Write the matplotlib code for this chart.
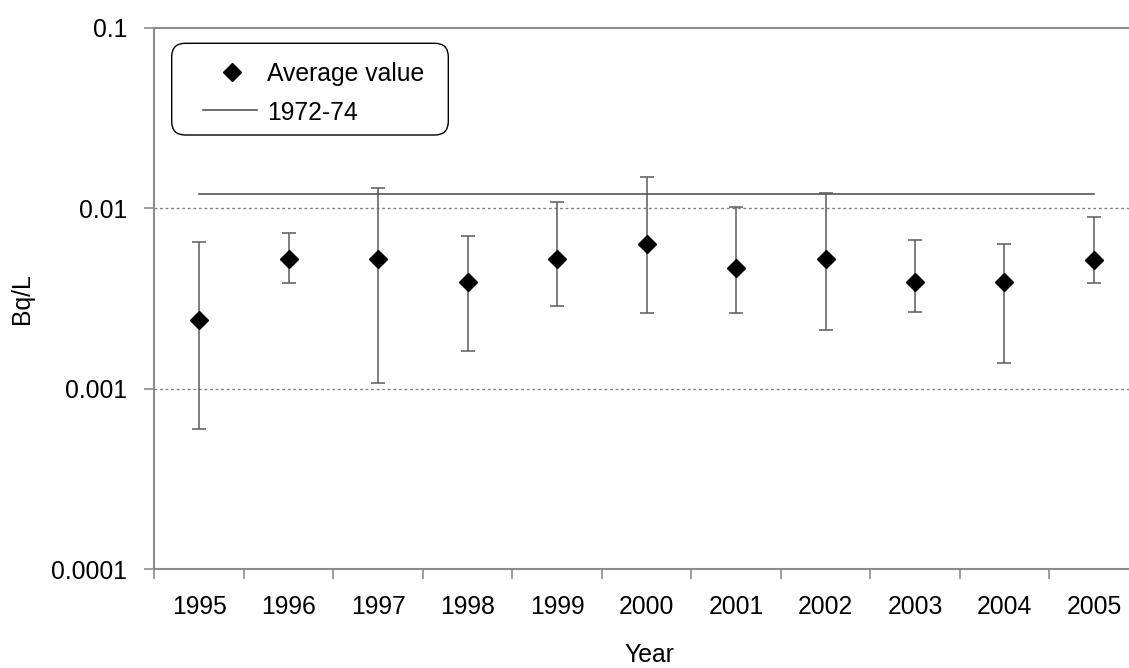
import numpy as np
import matplotlib
matplotlib.use("Agg")
import matplotlib.pyplot as plt
from matplotlib.patches import FancyBboxPatch

years = ["1995", "1996", "1997", "1998", "1999", "2000", "2001", "2002", "2003", "2004", "2005"]
avg = [0.0024, 0.00525, 0.00525, 0.00391, 0.00525, 0.00635, 0.00464, 0.00525, 0.00391, 0.00391, 0.00514]
upper = [0.00649, 0.00731, 0.01297, 0.00698, 0.01085, 0.01482, 0.0101, 0.01213, 0.00665, 0.00632, 0.00894]
lower = [0.000598, 0.00383, 0.00108, 0.00161, 0.00286, 0.00264, 0.00261, 0.0021, 0.00265, 0.00138, 0.00383]
ref_1972_74 = 0.01197
ytick_vals = [0.0001, 0.001, 0.01, 0.1]
ytick_labels = ["0.0001", "0.001", "0.01", "0.1"]
legend_labels = ["Average value", "1972-74"]

plt.rcParams['font.family'] = ['Liberation Sans', 'DejaVu Sans']
FS = 17.8
W, H = 1129, 668

fig = plt.figure(figsize=(W / 100, H / 100), dpi=100)
ax = fig.add_axes([0.1368, 0.1482, 0.8718, 0.8103])

x = np.arange(len(years))
avg_a = np.array(avg)
err = [avg_a - np.array(lower), np.array(upper) - avg_a]

ax.set_yscale('log')
ax.set_ylim(1e-4, 1e-1)
ax.set_xlim(-0.5, len(years) - 0.5)

# gridlines
for v in [0.001, 0.01]:
    ax.axhline(v, color='#808080', lw=1.0, ls=(0, (2, 2)), zorder=1)

ax.errorbar(x, avg, yerr=err, fmt='none', ecolor='#5a5a5a', elinewidth=1.1,
            capsize=4.7, capthick=1.1, zorder=2)
ax.plot([x[0], x[-1]], [ref_1972_74, ref_1972_74], color='#555555', lw=1.2, zorder=2)
ax.plot(x, avg, ls='none', marker='D', ms=9.6, color='black', zorder=3)

# ticks
ax.set_xticks(np.arange(-0.5, len(years) + 0.5, 1.0))
ax.set_xticklabels([])
ax.set_xticks(x, minor=True)
ax.set_xticklabels(years, minor=True, fontsize=FS)
ax.tick_params(axis='x', which='major', direction='out', length=7.5, width=1.2, color='#8c8c8c')
ax.tick_params(axis='x', which='minor', length=0, pad=19)

ax.set_yticks(ytick_vals)
ax.set_yticklabels(ytick_labels, fontsize=FS)
ax.yaxis.set_minor_locator(matplotlib.ticker.NullLocator())
ax.tick_params(axis='y', which='major', direction='out', length=7.5, width=1.2,
               color='#8c8c8c', pad=12)

for s in ['left', 'bottom', 'top']:
    ax.spines[s].set_color('#8c8c8c')
    ax.spines[s].set_linewidth(1.5)
ax.spines['right'].set_visible(False)

ax.set_ylabel('Bq/L', fontsize=FS)
ax.yaxis.set_label_coords(-0.1224, 0.5)
ax.set_xlabel('Year', fontsize=FS, va='bottom')
ax.xaxis.set_label_coords(0.503, -(668 - 569) / 541.3 + 0.002)

# legend drawn manually (pixel positions of the reference)
def fx(px):
    return px / W

def fy(py):
    return (H - py) / H

box = FancyBboxPatch((fx(171.7), fy(135)), fx(448.3) - fx(171.7), fy(43.3) - fy(135),
                     boxstyle='round,pad=0,rounding_size=0.012',
                     transform=fig.transFigure, fc='white', ec='black', lw=1.0,
                     mutation_aspect=W / H, zorder=5)
fig.add_artist(box)
fig.add_artist(matplotlib.lines.Line2D([fx(231.7)], [fy(71.7)], marker='D', ms=9.6,
                                       color='black', ls='none', transform=fig.transFigure,
                                       zorder=6))
fig.add_artist(matplotlib.lines.Line2D([fx(202.7), fx(257.3)], [fy(110), fy(110)],
                                       color='#555555', lw=1.2, transform=fig.transFigure,
                                       zorder=6))
fig.text(fx(266.7), fy(71.7), legend_labels[0], fontsize=FS, va='center_baseline',
         ha='left', zorder=6)
fig.text(fx(266.7), fy(110), legend_labels[1], fontsize=FS, va='center_baseline',
         ha='left', zorder=6)

fig.savefig('out.png', dpi=100)
